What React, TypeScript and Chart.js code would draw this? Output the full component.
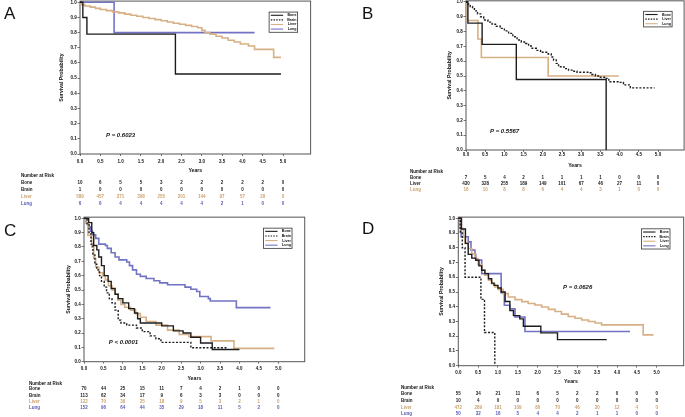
import React, { useEffect, useRef } from 'react';
import { Chart, registerables } from 'chart.js';

Chart.register(...registerables);

type Pt = [number, number];

const FONT = '"Liberation Sans", Arial, Helvetica, sans-serif';
const BLACK = '#1c1c1c';
const TAN = '#d8b085';
const PURPLE = '#7373c6';
const TAN_TEXT = '#cda272';
const PURPLE_TEXT = '#5a5ab4';
const FRAME = '#555555';

// ---------- axis ticks ----------
const yearTicks = [0, 0.5, 1, 1.5, 2, 2.5, 3, 3.5, 4, 4.5, 5];
const survTicks = [0, 0.1, 0.2, 0.3, 0.4, 0.5, 0.6, 0.7, 0.8, 0.9, 1.0];
const X_MAX = 5.68;
const Y_MAX = 1.008;

// ---------- Panel A ----------
const aBone: Pt[] = [[0, 1], [0.07, 0.9], [0.17, 0.79], [2.35, 0.527], [4.95, 0.527]];
const aBrain: Pt[] = [[0, 1], [0.05, 1]];
const aLiver: Pt[] = [[0, 1], [0.03, 0.985], [0.12, 0.976], [0.25, 0.968], [0.38, 0.96], [0.5, 0.953], [0.65, 0.945], [0.8, 0.937], [0.95, 0.93], [1.1, 0.922], [1.25, 0.915], [1.4, 0.908], [1.55, 0.9], [1.7, 0.893], [1.85, 0.886], [2.0, 0.878], [2.15, 0.87], [2.3, 0.862], [2.45, 0.855], [2.6, 0.848], [2.75, 0.84], [2.9, 0.832], [3.0, 0.815], [3.08, 0.8], [3.2, 0.79], [3.35, 0.776], [3.5, 0.765], [3.65, 0.75], [3.8, 0.738], [3.95, 0.725], [4.15, 0.712], [4.3, 0.69], [4.77, 0.637], [4.95, 0.637]];
const aLung: Pt[] = [[0, 1], [0.84, 0.8], [4.3, 0.8]];
const aRiskBone = [10, 6, 5, 5, 3, 2, 2, 2, 2, 2, 0];
const aRiskBrain = [1, 0, 0, 0, 0, 0, 0, 0, 0, 0, 0];
const aRiskLiver = [589, 457, 371, 308, 255, 201, 144, 97, 57, 29, 0];
const aRiskLung = [6, 6, 4, 4, 4, 4, 4, 2, 1, 0, 0];

// ---------- Panel B ----------
const bBone: Pt[] = [[0, 1], [0.05, 0.857], [0.42, 0.714], [1.31, 0.476], [3.65, 0.476], [3.65, 0]];
const bLiver: Pt[] = [[0, 1], [0.06, 0.985], [0.11, 0.97], [0.17, 0.955], [0.22, 0.94], [0.3, 0.92], [0.38, 0.9], [0.46, 0.878], [0.57, 0.864], [0.68, 0.85], [0.79, 0.836], [0.89, 0.822], [1.0, 0.805], [1.11, 0.788], [1.22, 0.765], [1.33, 0.743], [1.44, 0.73], [1.55, 0.72], [1.63, 0.703], [1.72, 0.687], [1.83, 0.673], [1.94, 0.66], [2.14, 0.649], [2.22, 0.628], [2.28, 0.608], [2.35, 0.585], [2.41, 0.563], [2.55, 0.55], [2.67, 0.54], [2.78, 0.532], [2.89, 0.525], [3.2, 0.522], [3.28, 0.51], [3.37, 0.5], [3.5, 0.492], [3.63, 0.484], [3.72, 0.461], [3.98, 0.457], [4.1, 0.44], [4.28, 0.42], [4.91, 0.42]];
const bLung: Pt[] = [[0, 1], [0.03, 0.875], [0.31, 0.75], [0.4, 0.625], [2.14, 0.5], [3.98, 0.5]];
const bRiskBone = [7, 5, 4, 2, 1, 1, 1, 1, 0, 0, 0];
const bRiskLiver = [430, 328, 255, 189, 149, 101, 67, 46, 27, 11, 0];
const bRiskLung = [16, 10, 8, 8, 6, 4, 4, 3, 1, 0, 0];

// ---------- Panel C ----------
const cBone: Pt[] = [[0, 1], [0.12, 0.97], [0.2, 0.9], [0.25, 0.81], [0.33, 0.78], [0.38, 0.73], [0.45, 0.67], [0.52, 0.6], [0.62, 0.56], [0.7, 0.51], [0.8, 0.47], [0.88, 0.44], [1.0, 0.41], [1.15, 0.37], [1.3, 0.34], [1.38, 0.3], [1.45, 0.27], [2.0, 0.25], [2.3, 0.215], [2.55, 0.2], [2.75, 0.17], [3.0, 0.13], [3.3, 0.085], [4.0, 0.085]];
const cBrain: Pt[] = [[0, 1], [0.08, 0.96], [0.13, 0.9], [0.18, 0.82], [0.23, 0.75], [0.28, 0.68], [0.33, 0.64], [0.4, 0.6], [0.45, 0.56], [0.52, 0.52], [0.58, 0.48], [0.65, 0.44], [0.72, 0.41], [0.8, 0.36], [0.88, 0.29], [0.95, 0.27], [1.1, 0.255], [1.35, 0.235], [1.5, 0.21], [1.7, 0.18], [1.85, 0.16], [1.98, 0.135], [2.75, 0.097], [3.7, 0.097]];
const cLiver: Pt[] = [[0, 1], [0.05, 0.97], [0.1, 0.88], [0.2, 0.8], [0.25, 0.72], [0.3, 0.66], [0.38, 0.62], [0.48, 0.6], [0.55, 0.57], [0.63, 0.53], [0.72, 0.5], [0.8, 0.47], [0.87, 0.43], [0.95, 0.4], [1.05, 0.38], [1.2, 0.36], [1.33, 0.335], [1.45, 0.31], [1.6, 0.28], [1.85, 0.255], [2.15, 0.22], [2.45, 0.19], [2.7, 0.175], [3.27, 0.145], [3.86, 0.093], [4.9, 0.093]];
const cLung: Pt[] = [[0, 1], [0.05, 0.97], [0.1, 0.94], [0.17, 0.91], [0.22, 0.885], [0.3, 0.86], [0.38, 0.82], [0.55, 0.81], [0.6, 0.79], [0.7, 0.76], [0.8, 0.73], [0.9, 0.71], [1.1, 0.695], [1.17, 0.67], [1.25, 0.64], [1.35, 0.61], [1.45, 0.595], [1.6, 0.58], [1.8, 0.565], [1.95, 0.55], [2.15, 0.537], [2.6, 0.52], [2.75, 0.505], [2.9, 0.49], [2.98, 0.455], [3.2, 0.44], [3.25, 0.423], [3.92, 0.377], [4.8, 0.377]];
const cRiskBone = [70, 44, 25, 15, 11, 7, 4, 2, 1, 0, 0];
const cRiskBrain = [113, 62, 34, 17, 9, 6, 3, 3, 0, 0, 0];
const cRiskLiver = [122, 70, 36, 25, 18, 9, 5, 3, 2, 1, 0];
const cRiskLung = [152, 96, 64, 44, 35, 29, 18, 11, 5, 2, 0];

// ---------- Panel D ----------
const dBone: Pt[] = [[0, 1], [0.08, 0.927], [0.18, 0.83], [0.25, 0.755], [0.34, 0.73], [0.44, 0.715], [0.52, 0.677], [0.59, 0.648], [0.67, 0.625], [0.76, 0.59], [0.84, 0.56], [0.9, 0.545], [1.0, 0.527], [1.08, 0.5], [1.18, 0.436], [1.3, 0.375], [1.39, 0.34], [1.55, 0.318], [1.64, 0.268], [2.08, 0.223], [2.5, 0.177], [3.74, 0.177]];
const dBrain: Pt[] = [[0, 1], [0.05, 0.9], [0.1, 0.8], [0.17, 0.6], [0.57, 0.45], [0.66, 0.225], [0.92, 0]];
const dLiver: Pt[] = [[0, 1], [0.04, 0.93], [0.13, 0.875], [0.17, 0.83], [0.25, 0.795], [0.34, 0.76], [0.42, 0.727], [0.5, 0.686], [0.59, 0.648], [0.67, 0.614], [0.76, 0.58], [0.84, 0.557], [0.92, 0.534], [1.0, 0.518], [1.13, 0.489], [1.26, 0.466], [1.43, 0.448], [1.6, 0.435], [1.76, 0.422], [1.93, 0.412], [2.1, 0.398], [2.27, 0.382], [2.44, 0.368], [2.6, 0.35], [2.77, 0.334], [2.94, 0.322], [3.11, 0.31], [3.28, 0.3], [3.45, 0.29], [3.61, 0.277], [4.66, 0.209], [4.92, 0.209]];
const dLung: Pt[] = [[0, 1], [0.07, 0.875], [0.25, 0.84], [0.32, 0.784], [0.42, 0.755], [0.44, 0.716], [0.59, 0.625], [1.08, 0.495], [1.16, 0.41], [1.3, 0.386], [1.43, 0.33], [1.68, 0.232], [4.33, 0.232]];
const dRiskBone = [55, 34, 21, 11, 6, 5, 2, 2, 0, 0, 0];
const dRiskBrain = [10, 4, 0, 0, 0, 0, 0, 0, 0, 0, 0];
const dRiskLiver = [472, 289, 181, 109, 80, 70, 46, 30, 12, 4, 0];
const dRiskLung = [50, 32, 16, 5, 4, 4, 2, 1, 1, 0, 0];

// ---------- panel layout ----------
interface Series { label: string; pts: Pt[]; color: string; dash?: number[] }
interface RiskRow { label: string; values: number[]; color: string }
interface PanelCfg {
  letter: string; letterX: number; letterY: number;
  left: number; top: number; width: number; height: number;
  x0px: number; x5px: number; y0px: number; y1px: number;
  titleCx: number; tickLabelOff: number; yearsOff: number;
  headerOff: number; firstRowOff: number; rowGap: number; riskLabelX: number;
  pText: string; pX: number; pY: number;
  legRight: number; legTop: number;
  series: Series[]; risk: RiskRow[];
}

const DASH = [2, 1.6];

const panels: PanelCfg[] = [
  {
    letter: 'A', letterX: 4, letterY: 19,
    left: 0, top: 0, width: 345, height: 213,
    x0px: 80, x5px: 283, y0px: 154, y1px: 2.3,
    titleCx: 62, tickLabelOff: 7.5, yearsOff: 17,
    headerOff: 21.3, firstRowOff: 28.7, rowGap: 7, riskLabelX: 21,
    pText: 'P = 0.6023', pX: 0.64, pY: 0.125,
    legRight: 13, legTop: 11,
    series: [
      { label: 'Bone', pts: aBone, color: BLACK },
      { label: 'Brain', pts: aBrain, color: BLACK, dash: DASH },
      { label: 'Liver', pts: aLiver, color: TAN },
      { label: 'Lung', pts: aLung, color: PURPLE },
    ],
    risk: [
      { label: 'Bone', values: aRiskBone, color: BLACK },
      { label: 'Brain', values: aRiskBrain, color: BLACK },
      { label: 'Liver', values: aRiskLiver, color: TAN_TEXT },
      { label: 'Lung', values: aRiskLung, color: PURPLE_TEXT },
    ],
  },
  {
    letter: 'B', letterX: 362, letterY: 19,
    left: 345, top: 0, width: 340, height: 213,
    x0px: 466, x5px: 658, y0px: 150, y1px: 2,
    titleCx: 449.5, tickLabelOff: 4.6, yearsOff: 16,
    headerOff: 22, firstRowOff: 28, rowGap: 6, riskLabelX: 410,
    pText: 'P = 0.5567', pX: 0.625, pY: 0.124,
    legRight: 12, legTop: 10.5,
    series: [
      { label: 'Bone', pts: bBone, color: BLACK },
      { label: 'Liver', pts: bLiver, color: BLACK, dash: DASH },
      { label: 'Lung', pts: bLung, color: TAN },
    ],
    risk: [
      { label: 'Bone', values: bRiskBone, color: BLACK },
      { label: 'Liver', values: bRiskLiver, color: BLACK },
      { label: 'Lung', values: bRiskLung, color: TAN_TEXT },
    ],
  },
  {
    letter: 'C', letterX: 4, letterY: 236,
    left: 0, top: 213, width: 345, height: 204,
    x0px: 84, x5px: 278.3, y0px: 361.7, y1px: 218.3,
    titleCx: 68.3, tickLabelOff: 7.3, yearsOff: 17.3,
    headerOff: 21.6, firstRowOff: 27.3, rowGap: 6.4, riskLabelX: 29,
    pText: 'P < 0.0001', pX: 0.64, pY: 0.135,
    legRight: 12.7, legTop: 11,
    series: [
      { label: 'Bone', pts: cBone, color: BLACK },
      { label: 'Brain', pts: cBrain, color: BLACK, dash: DASH },
      { label: 'Liver', pts: cLiver, color: TAN },
      { label: 'Lung', pts: cLung, color: PURPLE },
    ],
    risk: [
      { label: 'Bone', values: cRiskBone, color: BLACK },
      { label: 'Brain', values: cRiskBrain, color: BLACK },
      { label: 'Liver', values: cRiskLiver, color: TAN_TEXT },
      { label: 'Lung', values: cRiskLung, color: PURPLE_TEXT },
    ],
  },
  {
    letter: 'D', letterX: 362, letterY: 234,
    left: 345, top: 213, width: 340, height: 204,
    x0px: 458.3, x5px: 656.7, y0px: 365.7, y1px: 218.3,
    titleCx: 441.7, tickLabelOff: 7.3, yearsOff: 16,
    headerOff: 22, firstRowOff: 28.3, rowGap: 6.7, riskLabelX: 401,
    pText: 'P = 0.0626', pX: 2.64, pY: 0.53,
    legRight: 13.7, legTop: 11.7,
    series: [
      { label: 'Bone', pts: dBone, color: BLACK },
      { label: 'Brain', pts: dBrain, color: BLACK, dash: DASH },
      { label: 'Liver', pts: dLiver, color: TAN },
      { label: 'Lung', pts: dLung, color: PURPLE },
    ],
    risk: [
      { label: 'Bone', values: dRiskBone, color: BLACK },
      { label: 'Brain', values: dRiskBrain, color: BLACK },
      { label: 'Liver', values: dRiskLiver, color: TAN_TEXT },
      { label: 'Lung', values: dRiskLung, color: PURPLE_TEXT },
    ],
  },
];

const TICK_FS = 4.5;
const TITLE_FS = 5.2;

function buildConfig(cfg: PanelCfg): any {
  const pxYr = (cfg.x5px - cfg.x0px) / 5;
  const plotRight = cfg.x0px + X_MAX * pxYr;
  const pxU = cfg.y0px - cfg.y1px;
  const plotTop = cfg.y0px - Y_MAX * pxU;
  const Wy = cfg.x0px - cfg.left;
  const padTop = plotTop - cfg.top;
  const padRight = cfg.left + cfg.width - plotRight;
  const Hx = cfg.yearsOff + TITLE_FS / 2;
  const padBottom = cfg.top + cfg.height - cfg.y0px - Hx;
  const xTickLen = 2;
  const xTickPad = Math.max(0, cfg.tickLabelOff - xTickLen - (TICK_FS * 1.2) / 2);

  const extras = {
    id: 'kmExtras',
    beforeDatasetsDraw(chart: any) {
      const { ctx, chartArea: ca } = chart;
      ctx.save();
      ctx.strokeStyle = FRAME;
      ctx.lineWidth = 1;
      ctx.strokeRect(ca.left, ca.top, ca.right - ca.left, ca.bottom - ca.top);
      ctx.restore();
    },
    afterDraw(chart: any) {
      const { ctx, chartArea: ca } = chart;
      const xs = chart.scales.x;
      const ys = chart.scales.y;
      ctx.save();
      // panel letter
      ctx.fillStyle = '#111';
      ctx.font = `17px ${FONT}`;
      ctx.textAlign = 'left';
      ctx.textBaseline = 'alphabetic';
      ctx.fillText(cfg.letter, cfg.letterX - cfg.left, cfg.letterY - cfg.top);

      // P value
      ctx.font = `italic bold 6px ${FONT}`;
      ctx.textBaseline = 'middle';
      ctx.fillStyle = '#111';
      ctx.fillText(cfg.pText, xs.getPixelForValue(cfg.pX), ys.getPixelForValue(cfg.pY));

      // legend box
      const n = cfg.series.length;
      const rowH = 4.6;
      const w = 28.5;
      const h = n * rowH + 1.8;
      const bx = ca.right - cfg.legRight - w;
      const by = ca.top + cfg.legTop;
      ctx.fillStyle = '#fff';
      ctx.fillRect(bx, by, w, h);
      ctx.strokeStyle = '#333';
      ctx.lineWidth = 0.8;
      ctx.setLineDash([]);
      ctx.strokeRect(bx, by, w, h);
      ctx.font = `bold 3.6px ${FONT}`;
      ctx.textAlign = 'right';
      cfg.series.forEach((s, i) => {
        const yy = by + 0.9 + rowH * (i + 0.5);
        ctx.strokeStyle = s.color;
        ctx.lineWidth = 1.1;
        ctx.setLineDash(s.dash ? [1.5, 1.2] : []);
        ctx.beginPath();
        ctx.moveTo(bx + 1.7, yy);
        ctx.lineTo(bx + 14, yy);
        ctx.stroke();
        ctx.setLineDash([]);
        ctx.fillStyle = '#111';
        ctx.fillText(s.label, bx + w - 1.2, yy);
      });

      // risk table
      const lx = cfg.riskLabelX - cfg.left;
      ctx.font = `bold ${TICK_FS}px ${FONT}`;
      ctx.textBaseline = 'middle';
      ctx.textAlign = 'left';
      ctx.fillStyle = '#111';
      ctx.fillText('Number at Risk', lx, ca.bottom + cfg.headerOff);
      cfg.risk.forEach((r, i) => {
        const yy = ca.bottom + cfg.firstRowOff + i * cfg.rowGap;
        ctx.fillStyle = r.color;
        ctx.textAlign = 'left';
        ctx.fillText(r.label, lx, yy);
        ctx.textAlign = 'center';
        r.values.forEach((v, j) => {
          ctx.fillText(String(v), xs.getPixelForValue(yearTicks[j]), yy);
        });
      });
      ctx.restore();
    },
  };

  return {
    type: 'line',
    data: {
      datasets: cfg.series.map((s) => ({
        label: s.label,
        data: s.pts.map(([x, y]) => ({ x, y })),
        borderColor: s.color,
        backgroundColor: s.color,
        borderWidth: s.color === BLACK ? 1.4 : 1.6,
        borderDash: s.dash || [],
        stepped: 'before',
        pointRadius: 0,
        fill: false,
        tension: 0,
      })),
    },
    options: {
      animation: false,
      responsive: false,
      maintainAspectRatio: false,
      devicePixelRatio: 1,
      events: [],
      layout: { padding: { left: 0, top: padTop, right: padRight, bottom: padBottom } },
      plugins: { legend: { display: false }, tooltip: { enabled: false } },
      scales: {
        x: {
          type: 'linear',
          min: 0,
          max: X_MAX,
          afterBuildTicks: (sc: any) => { sc.ticks = yearTicks.map((v) => ({ value: v })); },
          afterFit: (sc: any) => { sc.height = Hx; sc.paddingLeft = 0; sc.paddingRight = 0; },
          ticks: {
            autoSkip: false, maxRotation: 0, minRotation: 0,
            padding: xTickPad,
            color: '#111',
            font: { family: FONT, size: TICK_FS, weight: 'bold', lineHeight: 1.2 },
            callback: (v: any) => Number(v).toFixed(1),
          },
          grid: { drawOnChartArea: false, drawTicks: true, tickLength: xTickLen, color: FRAME, lineWidth: 0.8 },
          border: { display: false },
          title: {
            display: true, text: 'Years', color: '#111',
            font: { family: FONT, size: TITLE_FS, weight: 'bold', lineHeight: 1 },
            padding: { top: 0, bottom: 0 },
          },
        },
        y: {
          type: 'linear',
          min: 0,
          max: Y_MAX,
          afterBuildTicks: (sc: any) => { sc.ticks = survTicks.map((v) => ({ value: v })); },
          afterFit: (sc: any) => { sc.width = Wy; sc.paddingTop = 0; sc.paddingBottom = 0; },
          ticks: {
            autoSkip: false,
            padding: 0.7,
            color: '#111',
            font: { family: FONT, size: TICK_FS, weight: 'bold', lineHeight: 1.2 },
            callback: (v: any) => Number(v).toFixed(1),
          },
          grid: { drawOnChartArea: false, drawTicks: true, tickLength: 2.5, color: FRAME, lineWidth: 0.8 },
          border: { display: false },
          title: {
            display: true, text: 'Survival Probability', color: '#111',
            font: { family: FONT, size: TITLE_FS, weight: 'bold', lineHeight: 1 },
            padding: { top: cfg.titleCx - cfg.left - TITLE_FS / 2, bottom: 0 },
          },
        },
      },
    },
    plugins: [extras],
  };
}

function Panel({ cfg }: { cfg: PanelCfg }) {
  const ref = useRef<HTMLCanvasElement | null>(null);
  useEffect(() => {
    const canvas = ref.current;
    if (!canvas) return;
    const chart = new Chart(canvas, buildConfig(cfg));
    return () => chart.destroy();
  }, [cfg]);
  return (
    <canvas
      ref={ref}
      width={cfg.width}
      height={cfg.height}
      style={{ position: 'absolute', left: cfg.left, top: cfg.top, width: cfg.width, height: cfg.height }}
    />
  );
}

export default function App() {
  return (
    <div style={{ position: 'fixed', left: 0, top: 0, width: 685, height: 417, background: '#fff', overflow: 'hidden' }}>
      {panels.map((p) => (
        <Panel key={p.letter} cfg={p} />
      ))}
    </div>
  );
}
